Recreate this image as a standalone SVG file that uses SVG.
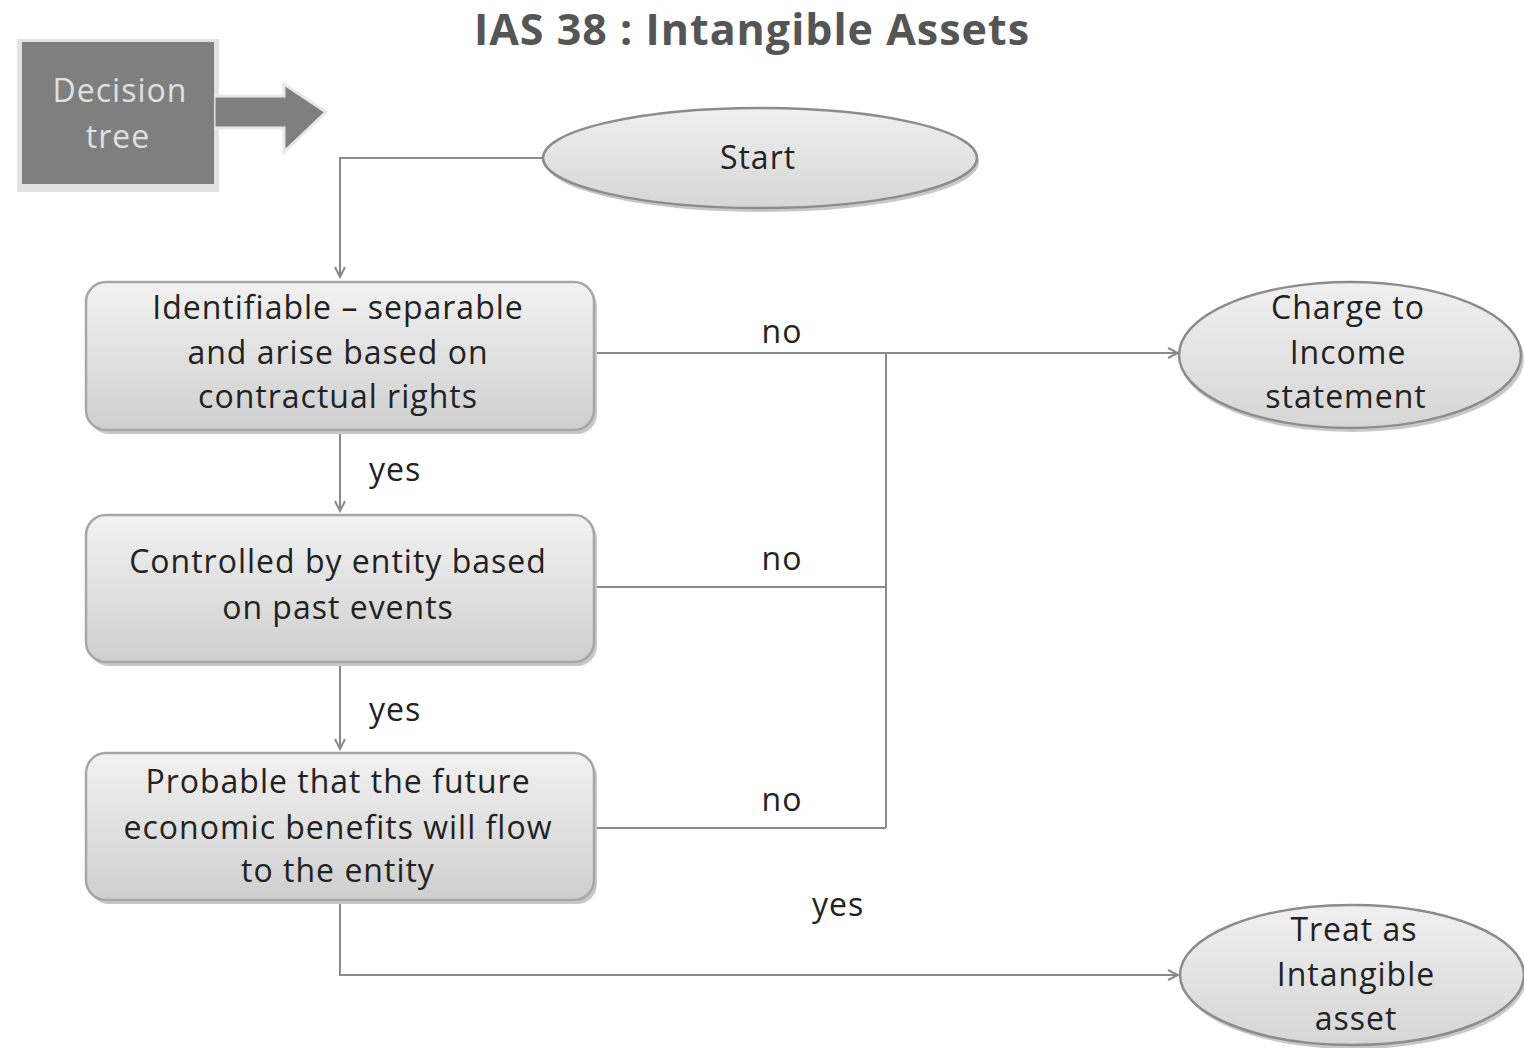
<svg xmlns="http://www.w3.org/2000/svg" width="1524" height="1048" viewBox="0 0 1524 1048">
<defs>
<linearGradient id="gb" x1="0" y1="0" x2="0" y2="1"><stop offset="0" stop-color="#f2f2f2"/><stop offset="1" stop-color="#cfcfcf"/></linearGradient>
<linearGradient id="ge" x1="0" y1="0" x2="0" y2="1"><stop offset="0" stop-color="#f0f0f0"/><stop offset="1" stop-color="#d6d6d6"/></linearGradient>
<marker id="ar" markerWidth="14" markerHeight="14" refX="12" refY="7" orient="auto" markerUnits="userSpaceOnUse"><path d="M2,2 L12,7 L2,12" fill="none" stroke="#8a8a8a" stroke-width="2"/></marker>
</defs>
<style>
.t{font-family:"Open Sans","Liberation Sans",sans-serif;font-size:32px;letter-spacing:1px;fill:#222;text-anchor:middle}
.box{fill:url(#gb);stroke:#a6a6a6;stroke-width:2.5}
.sh{fill:#c8c8c8}
.el{fill:url(#ge);stroke:#8c8c8c;stroke-width:2.5}
.c{fill:none;stroke:#8a8a8a;stroke-width:2}
</style>
<rect width="1524" height="1048" fill="#fff"/>
<text x="752" y="45" font-family="'Open Sans','Liberation Sans',sans-serif" font-size="43" font-weight="bold" letter-spacing="1" fill="#555" text-anchor="middle">IAS 38 : Intangible Assets</text>
<g id="decision-tree">
<rect x="17" y="39" width="202" height="153" fill="#e2e2e2"/>
<path d="M214,96 L284,96 L284,84 L326,112 L284,152 L284,128 L214,128 Z" fill="#7f7f7f" stroke="#e8e8e8" stroke-width="3"/>
<rect x="22" y="42" width="192" height="142" fill="#7f7f7f"/>
<text x="120" y="102" font-family="'Open Sans','Liberation Sans',sans-serif" font-size="32" letter-spacing="1" fill="#e0e0e0" text-anchor="middle">Decision</text>
<text x="118" y="148" font-family="'Open Sans','Liberation Sans',sans-serif" font-size="32" letter-spacing="1" fill="#e0e0e0" text-anchor="middle">tree</text>
</g>
<g id="connectors">
<path class="c" d="M543,158 H340 V277" marker-end="url(#ar)"/>
<path class="c" d="M340,430 V511" marker-end="url(#ar)"/>
<path class="c" d="M340,662 V749" marker-end="url(#ar)"/>
<path class="c" d="M594,353 H1178" marker-end="url(#ar)"/>
<path class="c" d="M594,587 H886 M594,828 H886 M886,353 V828"/>
<path class="c" d="M340,900 V975 H1178" marker-end="url(#ar)"/>
<text class="t" x="395" y="481">yes</text>
<text class="t" x="395" y="721">yes</text>
<text class="t" x="838" y="916">yes</text>
<text class="t" x="782" y="343">no</text>
<text class="t" x="782" y="570">no</text>
<text class="t" x="782" y="811">no</text>
</g>
<g id="start">
<ellipse cx="762" cy="162" rx="217" ry="50" class="sh"/>
<ellipse cx="760" cy="158" rx="217" ry="50" class="el"/>
<text class="t" x="758" y="169">Start</text>
</g>
<g id="identifiable">
<rect x="89" y="286" width="508" height="148" rx="20" class="sh"/>
<rect x="86" y="282" width="508" height="148" rx="20" class="box"/>
<text class="t" x="338" y="319">Identifiable – separable</text>
<text class="t" x="338" y="364">and arise based on</text>
<text class="t" x="338" y="408">contractual rights</text>
</g>
<g id="controlled">
<rect x="89" y="519" width="508" height="147" rx="20" class="sh"/>
<rect x="86" y="515" width="508" height="147" rx="20" class="box"/>
<text class="t" x="338" y="573">Controlled by entity based</text>
<text class="t" x="338" y="619">on past events</text>
</g>
<g id="probable">
<rect x="89" y="757" width="508" height="147" rx="20" class="sh"/>
<rect x="86" y="753" width="508" height="147" rx="20" class="box"/>
<text class="t" x="338" y="793">Probable that the future</text>
<text class="t" x="338" y="839">economic benefits will flow</text>
<text class="t" x="338" y="882">to the entity</text>
</g>
<g id="charge">
<ellipse cx="1352" cy="359" rx="172" ry="73" class="sh"/>
<ellipse cx="1350" cy="355" rx="171" ry="73" class="el"/>
<text class="t" x="1348" y="319">Charge to</text>
<text class="t" x="1348" y="364">Income</text>
<text class="t" x="1346" y="408">statement</text>
</g>
<g id="treat">
<ellipse cx="1354" cy="979" rx="172" ry="70" class="sh"/>
<ellipse cx="1352" cy="975" rx="172" ry="70" class="el"/>
<text class="t" x="1354" y="941">Treat as</text>
<text class="t" x="1356" y="986">Intangible</text>
<text class="t" x="1356" y="1030">asset</text>
</g>
</svg>
